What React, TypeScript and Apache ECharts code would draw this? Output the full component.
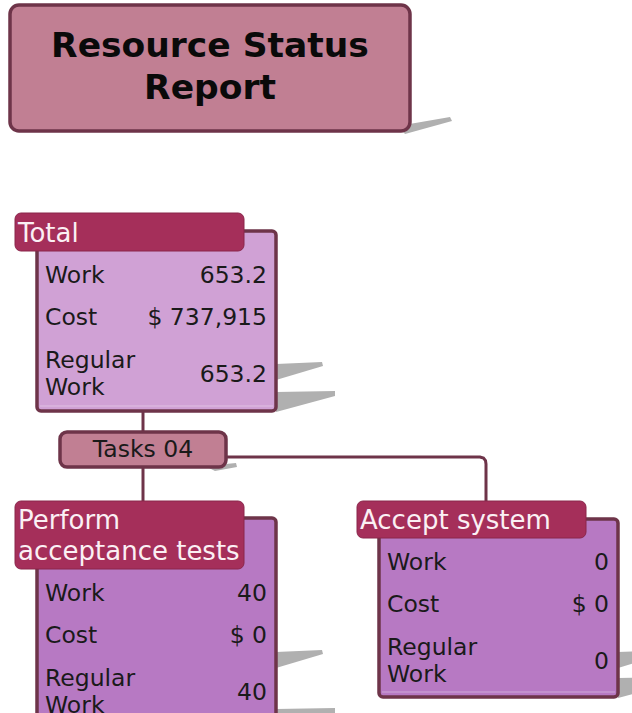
import React, { useEffect, useRef } from "react";
import * as echarts from "echarts";

// ---- data ----
const reportTitle = "Resource Status\nReport";
const groupLabel = "Tasks 04";
const cardTitles = ["Total", "Perform\nacceptance tests", "Accept system"];
const metricLabels = ["Work", "Cost", "Regular\nWork"];
const workValues = [653.2, 40, 0];
const costValues = [737915, 0, 0];
const regularWorkValues = [653.2, 40, 0];

// ---- layout / style ----
const FONT = '"DejaVu Sans", Verdana, sans-serif';
const BORDER = "#6e3449";
const SHADOW = "#b0b0b0";
const cardLayouts = [
  { hx: 15, hy: 213, hw: 229, hh: 38, bx: 37, by: 231, bw: 239, bh: 180, fill: "#d0a1d5" },
  { hx: 15, hy: 501, hw: 229, hh: 68, bx: 37, by: 518, bw: 239, bh: 210, fill: "#b779c3" },
  { hx: 357, hy: 501, hw: 229, hh: 37, bx: 379, by: 519, bw: 239, bh: 178, fill: "#b779c3" },
];
const rowOffsets = [23.5, 66, 122.5];

function txt(text: string, x: number, y: number, size: number, fill: string, align: string, opts: any = {}) {
  return {
    type: "text",
    silent: true,
    style: {
      text,
      x,
      y,
      fill,
      fontSize: size,
      fontFamily: FONT,
      fontWeight: opts.weight || "normal",
      lineHeight: opts.lineHeight || size * 1.2,
      align,
      textAlign: align,
      verticalAlign: "middle",
      textVerticalAlign: "middle",
    },
    z: opts.z || 10,
  };
}

function buildElements() {
  const els: any[] = [];
  // title shadow + box
  els.push({ type: "polygon", shape: { points: [[398, 126], [450, 117], [452, 121], [405, 134]] }, style: { fill: SHADOW }, z: 1 });
  els.push({ type: "rect", shape: { x: 10, y: 5, width: 400, height: 126, r: 9 }, style: { fill: "#c17f93", stroke: BORDER, lineWidth: 3.5 }, z: 2 });
  const tl = reportTitle.split("\n");
  els.push(txt(tl[0], 210, 45, 34.5, "#0a0a0a", "center", { weight: "bold" }));
  els.push(txt(tl[1], 210, 87, 34.5, "#0a0a0a", "center", { weight: "bold" }));

  // connectors
  const line = (pts: number[][]) => ({ type: "polyline", shape: { points: pts }, style: { stroke: BORDER, lineWidth: 3, fill: null }, z: 3 });
  els.push(line([[143, 411], [143, 432]]));
  els.push(line([[143, 467], [143, 502]]));
  els.push(line([[227, 457], [480, 457], [483.5, 458], [485.5, 460.5], [486, 464], [486, 502]]));

  // group box
  els.push({ type: "polygon", shape: { points: [[205, 466], [236, 463], [237, 467], [215, 471]] }, style: { fill: SHADOW }, z: 3 });
  els.push({ type: "rect", shape: { x: 60, y: 432, width: 166, height: 35, r: 7 }, style: { fill: "#c17f93", stroke: BORDER, lineWidth: 3.5 }, z: 4 });
  els.push(txt(groupLabel, 143, 449, 23.5, "#1a1a1a", "center"));

  // cards
  cardLayouts.forEach((L, i) => {
    const R = L.bx + L.bw;
    const B = L.by + L.bh;
    // shadows
    els.push({ type: "polygon", shape: { points: [[R, L.hy + 151], [R + 46, L.hy + 149], [R + 47, L.hy + 153], [R, L.hy + 167]] }, style: { fill: SHADOW }, z: 1 });
    els.push({ type: "polygon", shape: { points: [[R, B - 19], [R + 59, B - 20], [R + 59, B - 15], [R, B + 1]] }, style: { fill: SHADOW }, z: 1 });
    // body
    els.push({ type: "rect", shape: { x: L.bx, y: L.by, width: L.bw, height: L.bh, r: 4 }, style: { fill: L.fill, stroke: BORDER, lineWidth: 3.5 }, z: 5 });
    els.push({ type: "line", shape: { x1: L.bx + 3, y1: B - 5, x2: R - 3, y2: B - 5 }, style: { stroke: "rgba(255,255,255,0.35)", lineWidth: 1 }, z: 6 });
    // header
    els.push({ type: "rect", shape: { x: L.hx, y: L.hy, width: L.hw, height: L.hh, r: 6 }, style: { fill: "#a52f5a", stroke: "#8a264b", lineWidth: 1 }, z: 7 });
    els.push(txt(cardTitles[i], L.hx + 3, L.hy + L.hh / 2 + 0.5, 26, "#fbf0f4", "left", { lineHeight: 31 }));
    // rows
    const hb = L.hy + L.hh;
    const vals = [String(workValues[i]), "$ " + costValues[i].toLocaleString("en-US"), String(regularWorkValues[i])];
    metricLabels.forEach((lab, k) => {
      const cy = hb + rowOffsets[k];
      els.push(txt(lab, L.bx + 8, cy, 23.5, "#1a1a1a", "left", { lineHeight: 27 }));
      els.push(txt(vals[k], R - 9, cy, 23.5, "#1a1a1a", "right"));
    });
  });
  return els;
}

export default function App() {
  const ref = useRef<HTMLDivElement>(null);
  useEffect(() => {
    if (!ref.current) return;
    const chart = echarts.init(ref.current, null, { renderer: "svg" });
    chart.setOption({
      animation: false,
      backgroundColor: "#ffffff",
      graphic: { elements: buildElements() },
    });
    return () => chart.dispose();
  }, []);
  return <div ref={ref} style={{ position: "fixed", left: 0, top: 0, width: 632, height: 713, background: "#fff" }} />;
}
